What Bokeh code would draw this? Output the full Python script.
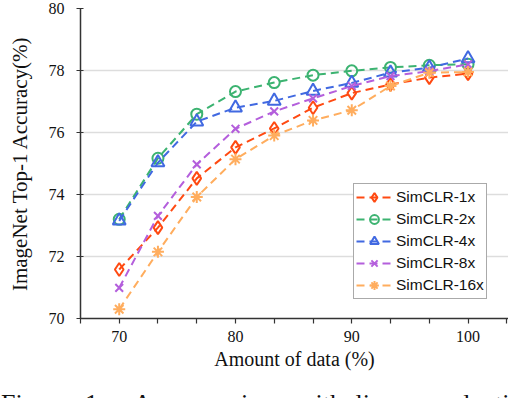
from bokeh.plotting import figure
from bokeh.models import Range1d, FixedTicker, Legend, LegendItem, Div
from bokeh.layouts import column
from bokeh.embed import file_html
from bokeh.resources import INLINE

# ---- data ----
data_pct = [70, 73.33, 76.67, 80, 83.33, 86.67, 90, 93.33, 96.67, 100]
simclr_1x = [71.58, 72.93, 74.52, 75.52, 76.13, 76.80, 77.27, 77.55, 77.77, 77.90]
simclr_2x = [73.20, 75.17, 76.59, 77.32, 77.61, 77.85, 77.99, 78.10, 78.17, 78.20]
simclr_4x = [73.15, 75.03, 76.35, 76.80, 77.02, 77.34, 77.60, 77.93, 78.09, 78.39]
simclr_8x = [70.99, 73.31, 74.97, 76.12, 76.68, 77.10, 77.50, 77.82, 77.98, 78.20]
simclr_16x = [70.30, 72.15, 73.92, 75.14, 75.90, 76.39, 76.72, 77.50, 77.93, 77.95]

series_names = ["SimCLR-1x", "SimCLR-2x", "SimCLR-4x", "SimCLR-8x", "SimCLR-16x"]
series_values = [simclr_1x, simclr_2x, simclr_4x, simclr_8x, simclr_16x]
series_colors = ["#ff4a12", "#3cb371", "#4169e1", "#b45fdc", "#ffad5e"]
series_markers = ["diamond", "circle", "triangle", "x", "asterisk"]
series_sizes = [13, 11, 13, 11, 12]

x_major_ticks = [70, 80, 90, 100]
x_minor_ticks = [66.67, 73.33, 76.67, 83.33, 86.67, 93.33, 96.67, 103.33]
y_ticks = [70, 72, 74, 76, 78, 80]

x_title = "Amount of data (%)"
y_title = "ImageNet Top-1 Accuracy(%)"
caption_words = ["Figure", "1:", "A comparison with linear evaluation"]

# ---- figure ----
p = figure(width=508, height=383, output_backend="svg", toolbar_location=None,
           x_range=Range1d(66.67, 103.48), y_range=Range1d(70, 80),
           min_border_left=80, min_border_right=0, min_border_top=8,
           min_border_bottom=65, margin=0)
p.outline_line_color = None
p.background_fill_color = "white"

serif = "Liberation Serif"

# axes
p.xaxis.ticker = FixedTicker(ticks=x_major_ticks, minor_ticks=x_minor_ticks)
p.yaxis.ticker = FixedTicker(ticks=y_ticks)
for ax in (p.xaxis[0], p.yaxis[0]):
    ax.axis_line_color = "#333333"
    ax.axis_line_width = 1.5
    ax.major_tick_line_color = "#333333"
    ax.major_tick_line_width = 1.2
    ax.minor_tick_line_color = "#333333"
    ax.minor_tick_line_width = 1.2
    ax.major_label_text_font = serif
    ax.major_label_text_font_size = "16px"
    ax.major_label_text_color = "#111111"
    ax.axis_label_text_font = serif
    ax.axis_label_text_font_style = "normal"
    ax.axis_label_text_color = "#111111"

p.xaxis.major_tick_in = 0
p.xaxis.major_tick_out = 5
p.xaxis.minor_tick_in = 0
p.xaxis.minor_tick_out = 5
p.xaxis.major_label_standoff = 7
p.xaxis.axis_label = x_title
p.xaxis.axis_label_text_font_size = "20px"
p.xaxis.axis_label_standoff = 3

p.yaxis.major_tick_in = 3
p.yaxis.major_tick_out = 4
p.yaxis.minor_tick_out = 0
p.yaxis.minor_tick_in = 0
p.yaxis.major_label_standoff = 12
p.yaxis.axis_label = y_title
p.yaxis.axis_label_text_font_size = "21px"
p.yaxis.axis_label_standoff = 14

p.xgrid.grid_line_color = None
p.ygrid.grid_line_color = "#dddddd"
p.ygrid.grid_line_width = 1.5

# series
items = []
for name, vals, col, mk, sz in zip(series_names, series_values, series_colors,
                                   series_markers, series_sizes):
    lr = p.line(data_pct, vals, line_color=col, line_width=2, line_dash="8 5")
    mr = p.scatter(data_pct, vals, marker=mk, size=sz, line_color=col,
                   line_width=2, fill_color=None)
    items.append(LegendItem(label=name, renderers=[lr, mr]))

legend = Legend(items=items, location=(273, 19))
legend.label_text_font = "Liberation Sans"
legend.label_text_font_size = "15.5px"
legend.label_text_color = "#111111"
legend.glyph_width = 36
legend.glyph_height = 22
legend.label_height = 22
legend.spacing = 0
legend.padding = 2
legend.label_standoff = 4
legend.margin = 0
legend.border_line_color = "#555555"
legend.border_line_width = 1.5
legend.background_fill_color = "white"
legend.background_fill_alpha = 1
p.add_layout(legend)

# caption below the chart (cut off at the bottom, as in the reference)
caption_html = (
    '<div style="white-space:nowrap;padding-left:1px;padding-top:6px;color:#111;">'
    + caption_words[0]
    + '<span style="display:inline-block;width:16px"></span>'
    + caption_words[1]
    + '<span style="display:inline-block;width:28px"></span>'
    + '<span style="word-spacing:6px">' + caption_words[2] + '</span></div>'
)
caption = Div(text=caption_html, width=508, height=15, margin=0,
              styles={"font-family": "Liberation Serif", "font-size": "26px",
                      "line-height": "30px", "overflow": "hidden"})

layout = column(p, caption, spacing=0)
open("out.html", "w").write(file_html(layout, INLINE))
